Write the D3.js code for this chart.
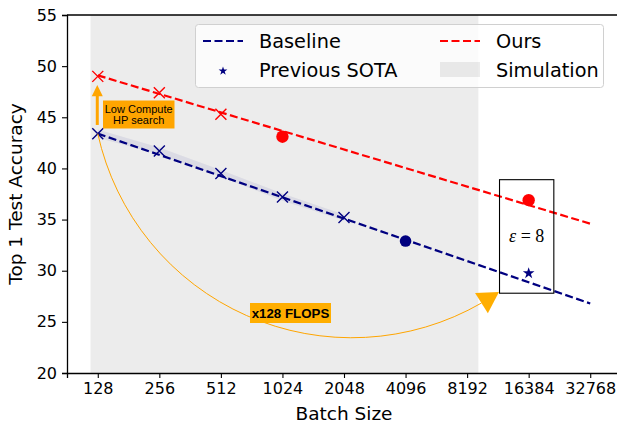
<!DOCTYPE html>
<html>
<head>
<meta charset="utf-8">
<title>Batch size vs accuracy</title>
<script src="https://d3js.org/d3.v7.min.js"></script>
<style>
  body { margin: 0; background: #fff; }
  text { font-family: "DejaVu Sans", sans-serif; }
</style>
</head>
<body>
<div id="chart"></div>
<script>
// ---- data ----
const batchTicks = [128, 256, 512, 1024, 2048, 4096, 8192, 16384, 32768];
const yTicks = [20, 25, 30, 35, 40, 45, 50, 55];

const baselineBatch = [128, 256, 512, 1024, 2048];
const baselineAcc = [43.4, 41.7, 39.5, 37.2, 35.2];
const baselineLow = [43.0, 41.35, 39.15, 36.85, 34.9];
const baselineHigh = [43.8, 42.05, 39.85, 37.55, 35.5];
const baselineDot = [[4096, 32.9]];

const oursBatch = [128, 256, 512];
const oursAcc = [49.0, 47.4, 45.3];
const oursDots = [[1024, 43.1], [16384, 36.9]];

const sotaPoint = [[16384, 29.8]];

// fitted trend lines (end points)
const baselineFit = [[128, 43.4], [32768, 26.8]];
const oursFit = [[128, 49.1], [32768, 34.6]];

const simulationSpan = [118, 9300];
const epsBox = [[11800, 27.8], [21750, 38.9]];

const legendLabels = ["Baseline", "Previous SOTA", "Ours", "Simulation"];

const width = 617, height = 424;
const margin = {top: 15, right: -4, bottom: 51, left: 67};
const navy = "#000080", red = "#ff0000", orange = "#ffa500";

const svg = d3.select("#chart").append("svg")
    .attr("width", width)
    .attr("height", height);

const x = d3.scaleLog().base(2)
    .domain([128 / Math.SQRT2, 32768 * Math.SQRT2])
    .range([margin.left, width - margin.right]);
const y = d3.scaleLinear()
    .domain([20, 55])
    .range([height - margin.bottom, margin.top]);

// simulation shading
svg.append("rect")
    .attr("x", x(simulationSpan[0]))
    .attr("y", y(55))
    .attr("width", x(simulationSpan[1]) - x(simulationSpan[0]))
    .attr("height", y(20) - y(55))
    .attr("fill", "#808080")
    .attr("fill-opacity", 0.15);

// baseline band
const band = d3.area()
    .x((d, i) => x(baselineBatch[i]))
    .y0(d => y(d[0]))
    .y1(d => y(d[1]));
svg.append("path")
    .datum(baselineLow.map((v, i) => [v, baselineHigh[i]]))
    .attr("d", band)
    .attr("fill", navy)
    .attr("fill-opacity", 0.07);

// trend lines
const line = d3.line().x(d => x(d[0])).y(d => y(d[1]));
svg.append("path").datum(baselineFit).attr("d", line)
    .attr("stroke", navy).attr("stroke-width", 2.2).attr("fill", "none")
    .attr("stroke-dasharray", "8,3.5");
svg.append("path").datum(oursFit).attr("d", line)
    .attr("stroke", red).attr("stroke-width", 2.2).attr("fill", "none")
    .attr("stroke-dasharray", "8,3.5");

// x markers
function crosses(xs, ys, color) {
  const s = 5.5;
  svg.append("g").selectAll("path")
    .data(xs.map((b, i) => [b, ys[i]]))
    .join("path")
    .attr("d", d => {
      const cx = x(d[0]), cy = y(d[1]);
      return `M${cx - s},${cy - s}L${cx + s},${cy + s}M${cx - s},${cy + s}L${cx + s},${cy - s}`;
    })
    .attr("stroke", color)
    .attr("stroke-width", 1.4);
}
crosses(baselineBatch, baselineAcc, navy);
crosses(oursBatch, oursAcc, red);

// dots
svg.append("g").selectAll("circle").data(oursDots).join("circle")
    .attr("cx", d => x(d[0])).attr("cy", d => y(d[1])).attr("r", 6.2)
    .attr("fill", red);
svg.append("g").selectAll("circle").data(baselineDot).join("circle")
    .attr("cx", d => x(d[0])).attr("cy", d => y(d[1])).attr("r", 5.8)
    .attr("fill", navy);

// previous SOTA star
svg.append("g").selectAll("path").data(sotaPoint).join("path")
    .attr("d", d3.symbol().type(d3.symbolStar).size(42))
    .attr("transform", d => `translate(${x(d[0])},${y(d[1]) + 0.5})`)
    .attr("fill", navy);

// epsilon box
svg.append("rect")
    .attr("x", x(epsBox[0][0]))
    .attr("y", y(epsBox[1][1]))
    .attr("width", x(epsBox[1][0]) - x(epsBox[0][0]))
    .attr("height", y(epsBox[0][1]) - y(epsBox[1][1]))
    .attr("fill", "none")
    .attr("stroke", "#000")
    .attr("stroke-width", 1.1);
const epsText = svg.append("text")
    .attr("x", (x(epsBox[0][0]) + x(epsBox[1][0])) / 2)
    .attr("y", (y(epsBox[0][1]) + y(epsBox[1][1])) / 2 + 6)
    .attr("text-anchor", "middle")
    .style("font-family", "'Liberation Serif', serif")
    .style("font-size", "18px");
epsText.append("tspan").style("font-style", "italic").style("font-family", "'Liberation Serif', serif").text("ε");
epsText.append("tspan").style("font-family", "'Liberation Serif', serif").text(" = 8");

// small arrow: low compute HP search
const ax = x(128) - 0.5;
svg.append("line")
    .attr("x1", ax).attr("x2", ax)
    .attr("y1", y(44.25)).attr("y2", y(47.1))
    .attr("stroke", orange).attr("stroke-width", 3);
svg.append("path")
    .attr("d", `M${ax},${y(48.15)}L${ax - 5.5},${y(47.05)}L${ax + 5.5},${y(47.05)}Z`)
    .attr("fill", orange);
svg.append("rect")
    .attr("x", 103).attr("y", 100.5).attr("width", 71.5).attr("height", 28)
    .attr("fill", orange);
const lc = svg.append("text")
    .attr("x", 138.7).attr("text-anchor", "middle")
    .style("font-family", "'Liberation Sans', Arial, sans-serif")
    .style("font-size", "11px").attr("fill", "#000");
lc.append("tspan").attr("x", 138.7).attr("y", 112.8).text("Low Compute");
lc.append("tspan").attr("x", 138.7).attr("y", 124).text("HP search");

// big curved arrow: x128 FLOPS
const arcStart = [128, 43.4];
const arrowTip = [11730, 27.92];
const arrowBase = [9630, 26.84];
const p0 = [x(arcStart[0]), y(arcStart[1])];
const pb = [x(arrowBase[0]), y(arrowBase[1])];
const pt = [x(arrowTip[0]), y(arrowTip[1])];
svg.append("path")
    .attr("d", `M${p0[0]},${p0[1]}A260,260 0 0 0 ${pb[0]},${pb[1]}`)
    .attr("fill", "none").attr("stroke", orange).attr("stroke-width", 1);
{
  const dx = pt[0] - pb[0], dy = pt[1] - pb[1];
  const len = Math.hypot(dx, dy);
  const nx = -dy / len * 12, ny = dx / len * 12;
  svg.append("path")
      .attr("d", `M${pt[0]},${pt[1]}L${pb[0] + nx},${pb[1] + ny}L${pb[0] - nx},${pb[1] - ny}Z`)
      .attr("fill", "#ffae00");
}
svg.append("rect")
    .attr("x", 250).attr("y", 303).attr("width", 81).attr("height", 20)
    .attr("fill", "#ffae00");
svg.append("text")
    .attr("x", 290.5).attr("y", 318)
    .attr("text-anchor", "middle")
    .style("font-family", "'Liberation Sans', Arial, sans-serif")
    .style("font-size", "13.3px").style("font-weight", "bold")
    .text("x128 FLOPS");

// axes
const xAxis = svg.append("g")
    .attr("transform", `translate(0,${y(20)})`)
    .call(d3.axisBottom(x).tickValues(batchTicks).tickFormat(d3.format("d")).tickSizeOuter(0).tickSize(5).tickPadding(5));
const yAxis = svg.append("g")
    .attr("transform", `translate(${margin.left},0)`)
    .call(d3.axisLeft(y).tickValues(yTicks).tickSizeOuter(0).tickSize(5).tickPadding(5));
[xAxis, yAxis].forEach(g => {
  g.selectAll("text").style("font-size", "16px").attr("fill", "#000");
  g.selectAll(".tick line").attr("stroke", "#000").attr("stroke-width", 1.1);
  g.select(".domain").attr("stroke", "#000").attr("stroke-width", 1.3);
});
// top spine
svg.append("line")
    .attr("x1", margin.left).attr("x2", width)
    .attr("y1", y(55)).attr("y2", y(55))
    .attr("stroke", "#000").attr("stroke-width", 1.3);

svg.append("text")
    .attr("x", (margin.left + width - margin.right) / 2)
    .attr("y", 420)
    .attr("text-anchor", "middle")
    .style("font-size", "18.5px")
    .text("Batch Size");
svg.append("text")
    .attr("transform", `translate(22,${(y(20) + y(55)) / 2}) rotate(-90)`)
    .attr("text-anchor", "middle")
    .style("font-size", "18.5px")
    .text("Top 1 Test Accuracy");

// legend
const lg = svg.append("g");
lg.append("rect")
    .attr("x", 195.5).attr("y", 24.5).attr("width", 408).attr("height", 63).attr("rx", 3)
    .attr("fill", "#fff").attr("fill-opacity", 0.8)
    .attr("stroke", "#d0d0d0").attr("stroke-width", 1);
const rows = [41, 70];
const cols = [[203, 259], [440, 496]];
lg.append("line")
    .attr("x1", cols[0][0]).attr("x2", cols[0][0] + 40).attr("y1", rows[0]).attr("y2", rows[0])
    .attr("stroke", navy).attr("stroke-width", 2.2).attr("stroke-dasharray", "8,3.5");
lg.append("path")
    .attr("d", d3.symbol().type(d3.symbolStar).size(24))
    .attr("transform", `translate(${cols[0][0] + 20},${rows[1] + 1})`)
    .attr("fill", navy);
lg.append("line")
    .attr("x1", cols[1][0]).attr("x2", cols[1][0] + 40).attr("y1", rows[0]).attr("y2", rows[0])
    .attr("stroke", red).attr("stroke-width", 2.2).attr("stroke-dasharray", "8,3.5");
lg.append("rect")
    .attr("x", cols[1][0]).attr("y", rows[1] - 8).attr("width", 40).attr("height", 15)
    .attr("fill", "#808080").attr("fill-opacity", 0.15);
legendLabels.forEach((t, i) => {
  lg.append("text")
      .attr("x", cols[Math.floor(i / 2)][1])
      .attr("y", rows[i % 2] + 7)
      .style("font-size", "19.3px")
      .text(t);
});
</script>
</body>
</html>
